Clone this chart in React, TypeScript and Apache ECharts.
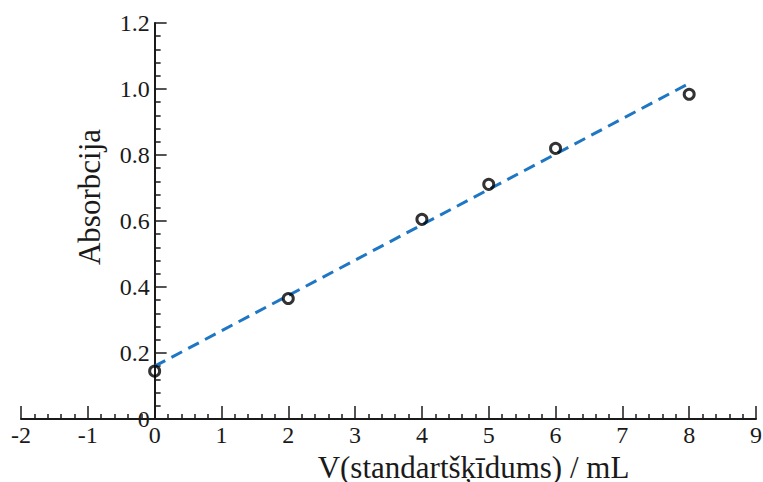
import React, { useEffect, useRef } from "react";
import * as echarts from "echarts";

const volumes = [0, 2, 4, 5, 6, 8];
const absorbance = [0.145, 0.365, 0.605, 0.711, 0.82, 0.984];
const fitX = [0, 8];
const fitY = [0.16, 1.017];
const xTicks = { min: -2, max: 9, interval: 1 };
const yTicks = { min: 0, max: 1.2, interval: 0.2 };
const xName = "V(standartšķīdums) / mL";
const yName = "Absorbcija";

const FONT = "'Liberation Serif', 'Times New Roman', serif";
const INK = "#1a1a1a";

const GRID_LEFT = 21;
const GRID_RIGHT = 7;
const W = 763;

export default function App() {
  const ref = useRef<HTMLDivElement>(null);
  useEffect(() => {
    if (!ref.current) return;
    const chart = echarts.init(ref.current, undefined, { renderer: "svg" });
    const plotW = W - GRID_LEFT - GRID_RIGHT;
    const zeroShift = ((0 - xTicks.min) / (xTicks.max - xTicks.min)) * plotW;
    chart.setOption({
      animation: false,
      backgroundColor: "#ffffff",
      grid: {
        left: GRID_LEFT,
        right: GRID_RIGHT,
        top: 23,
        bottom: 63,
        containLabel: false,
        outerBoundsMode: "none",
      },
      xAxis: {
        type: "value",
        min: xTicks.min,
        max: xTicks.max,
        interval: xTicks.interval,
        name: xName,
        nameLocation: "middle",
        nameGap: 31,
        nameTextStyle: {
          fontFamily: FONT,
          fontSize: 31,
          lineHeight: 26,
          color: INK,
          padding: [0, 0, 0, 170],
        },
        axisLine: { show: true, onZero: false, lineStyle: { color: INK, width: 2 } },
        axisTick: { show: true, inside: true, length: 13, lineStyle: { color: INK, width: 1.5 } },
        minorTick: { show: true, splitNumber: 5, length: 5, lineStyle: { color: INK, width: 1.5 } },
        axisLabel: { fontFamily: FONT, fontSize: 24, color: INK, margin: 4 },
        splitLine: { show: false },
      },
      yAxis: {
        type: "value",
        min: yTicks.min,
        max: yTicks.max,
        interval: yTicks.interval,
        offset: -zeroShift,
        name: yName,
        nameLocation: "middle",
        nameGap: 50,
        nameTextStyle: { fontFamily: FONT, fontSize: 31, color: INK, padding: [0, 0, 0, 48] },
        axisLine: { show: true, onZero: false, lineStyle: { color: INK, width: 2 } },
        axisTick: { show: true, inside: true, length: 12, lineStyle: { color: INK, width: 1.5 } },
        minorTick: { show: true, splitNumber: 5, length: 6, lineStyle: { color: INK, width: 1.5 } },
        axisLabel: {
          fontFamily: FONT,
          fontSize: 24,
          color: INK,
          margin: 5,
          formatter: (v: number) => (v === 0 ? "0" : v.toFixed(1)),
        },
        splitLine: { show: false },
      },
      series: [
        {
          type: "line",
          data: fitX.map((x, i) => [x, fitY[i]]),
          showSymbol: false,
          symbol: "none",
          lineStyle: { color: "#1f77c4", width: 3, type: [12, 7] },
          z: 2,
        },
        {
          type: "scatter",
          data: volumes.map((x, i) => [x, absorbance[i]]),
          symbol: "circle",
          symbolSize: 10,
          itemStyle: { color: "rgba(255,255,255,0)", borderColor: "#000", borderWidth: 3 },
          z: 3,
        },
      ],
    });
    return () => chart.dispose();
  }, []);
  return (
    <div
      ref={ref}
      style={{ position: "fixed", left: 0, top: 0, width: W, height: 482 }}
    />
  );
}
